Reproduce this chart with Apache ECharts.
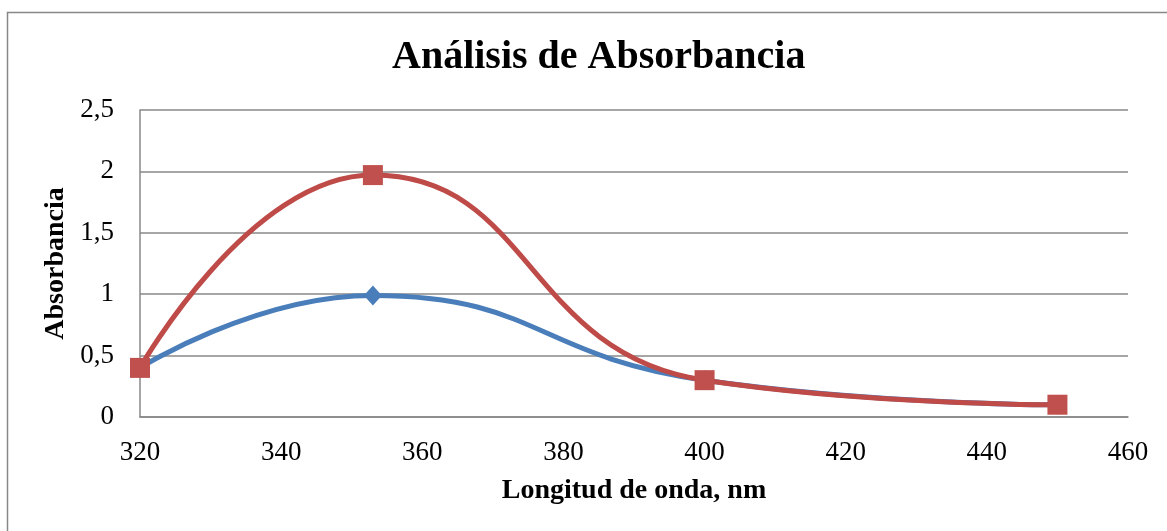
<!DOCTYPE html>
<html>
<head>
<meta charset="utf-8">
<script src="https://cdn.jsdelivr.net/npm/echarts@6/dist/echarts.min.js"></script>
<style>
html,body{margin:0;padding:0;background:#fff;}
#chart{width:1167px;height:531px;}
</style>
</head>
<body>
<div id="chart"></div>
<script>
const wavelengths = [320, 353, 400, 450];
const seriesBlue = [0.40, 0.99, 0.30, 0.10];
const seriesRed = [0.40, 1.97, 0.30, 0.10];
const xTicks = [320, 340, 360, 380, 400, 420, 440, 460];
const yTicks = [0, 0.5, 1, 1.5, 2, 2.5];
const titleText = 'Análisis de Absorbancia';
const xName = 'Longitud de onda, nm';
const yName = 'Absorbancia';

const serif = '"Liberation Serif", "DejaVu Serif", serif';
const chart = echarts.init(document.getElementById('chart'));
chart.setOption({
  animation: false,
  title: {
    text: titleText, left: 387, top: 33,
    textStyle: {fontFamily: serif, fontSize: 40, fontWeight: 'bold', color: '#000'}
  },
  graphic: [{
    type: 'rect', shape: {x: 7.5, y: 12.5, width: 1300, height: 700},
    style: {fill: 'none', stroke: '#878787', lineWidth: 1.5}, silent: true
  }],
  grid: {left: 140, right: 39, top: 110, bottom: 114},
  xAxis: {
    type: 'value', min: xTicks[0], max: xTicks[xTicks.length - 1], interval: 20,
    name: xName, nameLocation: 'middle', nameGap: 60,
    nameTextStyle: {fontFamily: serif, fontSize: 28, fontWeight: 'bold', color: '#000'},
    axisLine: {show: true, lineStyle: {color: '#888', width: 1.5}},
    axisTick: {show: false},
    splitLine: {show: false},
    axisLabel: {fontFamily: serif, fontSize: 27, color: '#000', margin: 22}
  },
  yAxis: {
    type: 'value', min: yTicks[0], max: yTicks[yTicks.length - 1], interval: 0.5,
    name: yName, nameLocation: 'middle', nameGap: 66, nameRotate: 90,
    nameTextStyle: {fontFamily: serif, fontSize: 28, fontWeight: 'bold', color: '#000'},
    axisLine: {show: true, lineStyle: {color: '#888', width: 1.5}},
    axisTick: {show: false},
    splitLine: {show: true, lineStyle: {color: '#888', width: 1.5}},
    axisLabel: {fontFamily: serif, fontSize: 27, color: '#000', margin: 26,
      formatter: v => String(v).replace('.', ',')}
  },
  series: [
    {
      type: 'line', smooth: 0.5,
      data: wavelengths.map((x, i) => [x, seriesBlue[i]]),
      lineStyle: {color: '#4A7EBB', width: 5},
      symbol: 'diamond', symbolSize: [18, 20],
      itemStyle: {color: '#4A7EBB'}
    },
    {
      type: 'line', smooth: 0.5,
      data: wavelengths.map((x, i) => [x, seriesRed[i]]),
      lineStyle: {color: '#BE4B48', width: 5},
      symbol: 'rect', symbolSize: 20,
      itemStyle: {color: '#C0504D'}
    }
  ]
});
</script>
</body>
</html>
